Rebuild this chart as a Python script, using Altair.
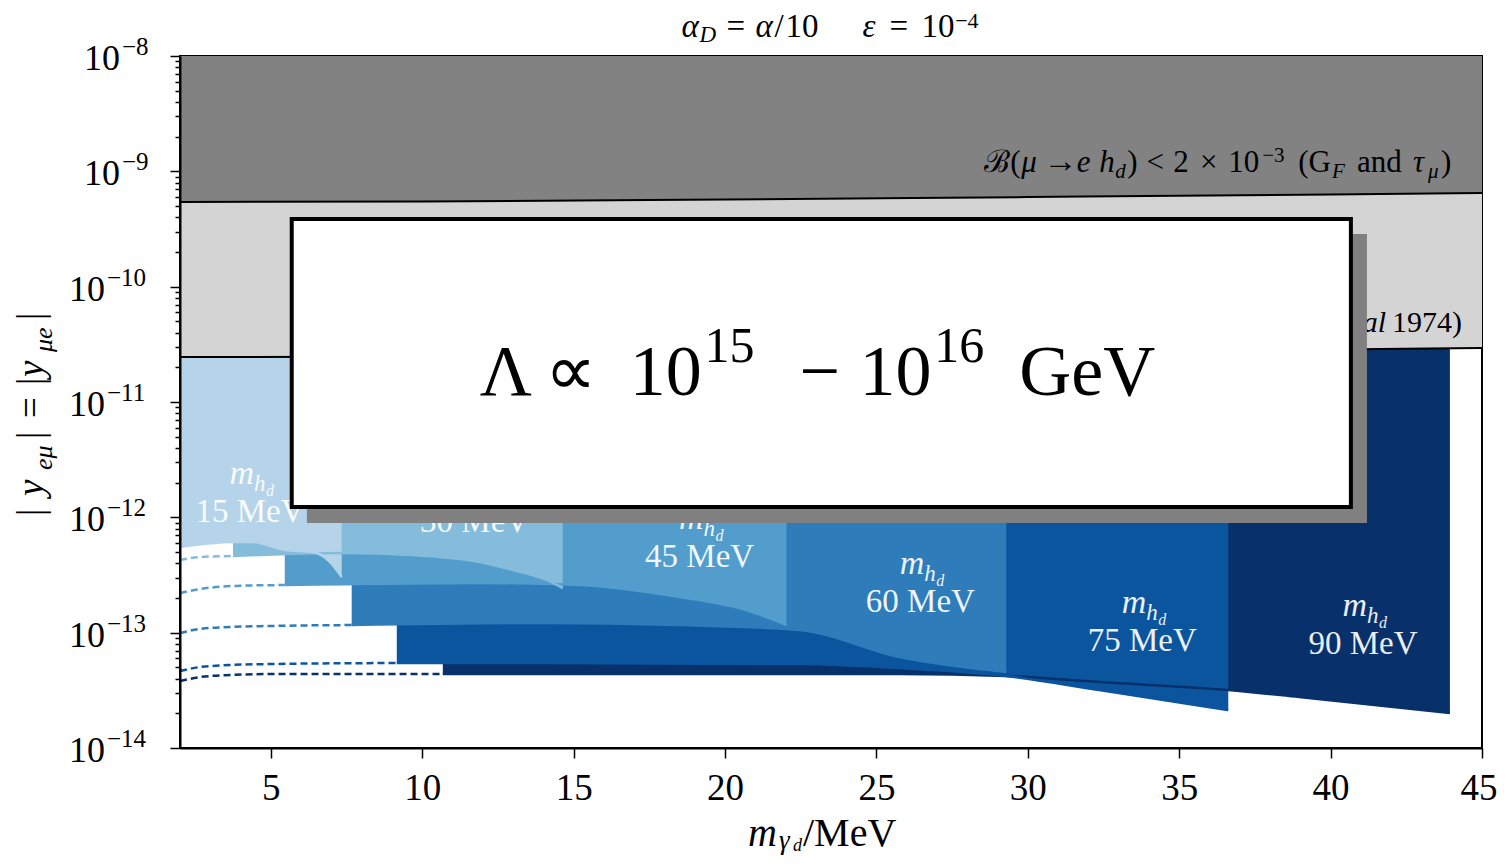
import altair as alt
import pandas as pd

FONT = "Liberation Serif"

# ---------------- data: x = m_gamma_d [MeV], values are log10 |y_emu| ----------------
bound_x = [2, 10, 20, 30, 40, 45]
gf_bound_log = [-9.266, -9.262, -9.244, -9.223, -9.201, -9.188]      # B(mu -> e h_d) < 2e-3 (G_F, tau_mu)
old_bound_log = [-10.610, -10.606, -10.588, -10.567, -10.545, -10.532]  # (... et al 1974)

masses = [15, 30, 45, 60, 75, 90]
mass_colors = ["#b6d4e9", "#85bcdc", "#539dcd", "#2e7cba", "#0b559f", "#08306b"]

reg_x = {
    15: [2.0, 3.75, 4.41, 5.46, 6.39, 6.95, 7.34],
    30: [3.75, 7.34, 9.69, 11.90, 12.99, 14.11, 14.64],
    45: [5.46, 11.90, 15.20, 18.50, 20.71, 22.03],
    60: [7.67, 14.11, 18.50, 22.46, 25.76, 29.29],
    75: [9.16, 14.11, 22.46, 25.76, 29.29, 32.36, 36.62],
    90: [10.68, 22.46, 25.76, 29.29, 32.36, 36.62, 38.96, 43.94],
}
reg_log = {
    15: [-12.257, -12.214, -12.214, -12.283, -12.301, -12.387, -12.517],
    30: [-12.335, -12.309, -12.327, -12.387, -12.457, -12.543, -12.613],
    45: [-12.587, -12.569, -12.587, -12.691, -12.804, -12.934],
    60: [-12.934, -12.916, -12.934, -12.977, -13.211, -13.341],
    75: [-13.263, -13.263, -13.272, -13.307, -13.376, -13.497, -13.671],
    90: [-13.359, -13.359, -13.359, -13.376, -13.428, -13.497, -13.558, -13.697],
}
dash_x = {
    30: [2.0, 2.66, 3.75],
    45: [2.0, 2.66, 3.65, 5.46],
    60: [2.0, 2.66, 3.65, 4.97, 7.67],
    75: [2.0, 2.66, 3.65, 4.97, 9.16],
    90: [2.0, 2.66, 3.65, 4.97, 10.68],
}
dash_log = {
    30: [-12.370, -12.344, -12.335],
    45: [-12.656, -12.622, -12.596, -12.587],
    60: [-13.003, -12.968, -12.951, -12.942, -12.934],
    75: [-13.333, -13.298, -13.281, -13.272, -13.263],
    90: [-13.419, -13.385, -13.367, -13.359, -13.359],
}
label_x = [4.31, 11.73, 19.16, 26.45, 33.78, 41.07]
label_log = [-12.041, -12.127, -12.431, -12.821, -13.159, -13.185]

x_ticks = [5, 10, 15, 20, 25, 30, 35, 40, 45]
decades = [-8, -9, -10, -11, -12, -13, -14]

# overlay box (data coords) and shadow
box_x = [5.69, 40.67]
box_log = [-9.413, -11.911]
shadow_x = [6.19, 41.20]
shadow_log = [-9.543, -12.049]

# ---------------- scales / axes ----------------
XS = alt.Scale(domain=[2, 45], nice=False, zero=False)
YS = alt.Scale(type="log", domain=[1e-14, 1e-8], nice=False)

y_tick_vals = [k * 10.0 ** e for e in range(-14, -8) for k in range(1, 10)] + [1e-8]

x_axis = alt.Axis(values=x_ticks, title=None, grid=False, labelFont=FONT, labelFontSize=37,
                  labelColor="black", tickColor="black", tickSize=10, tickWidth=1.5,
                  domainColor="black", domainWidth=2, labelPadding=12,
                  labelFlush=True, labelFlushOffset=15, zindex=1)
y_axis = alt.Axis(values=y_tick_vals, labels=False, title=None, grid=False,
                  tickColor="black", tickWidth=1.5, domainColor="black", domainWidth=2, zindex=1,
                  tickSize={"condition": {"test": "abs(log(datum.value)/LN10 - round(log(datum.value)/LN10)) < 0.001",
                                          "value": 10}, "value": 5})


def X(f="x"):
    return alt.X(f"{f}:Q", scale=XS, axis=x_axis)


def Y(f="y"):
    return alt.Y(f"{f}:Q", scale=YS, axis=y_axis)


layers = []

# blue excluded regions (largest mass first, smaller on top)
for m, c in reversed(list(zip(masses, mass_colors))):
    df = pd.DataFrame({"x": reg_x[m], "y": [10 ** v for v in reg_log[m]]})
    df["y2"] = 1e-10
    layers.append(alt.Chart(df).mark_area(color=c, opacity=1, interpolate="monotone")
                  .encode(x=X(), y=Y(), y2=alt.Y2("y2:Q")))

# region lower edges (solid) and dashed continuation
for m, c in reversed(list(zip(masses, mass_colors))):
    df = pd.DataFrame({"x": reg_x[m], "y": [10 ** v for v in reg_log[m]]})
    layers.append(alt.Chart(df).mark_line(color=c, strokeWidth=2.5, interpolate="monotone")
                  .encode(x=X(), y=Y()))
    if m in dash_x:
        dd = pd.DataFrame({"x": dash_x[m], "y": [10 ** v for v in dash_log[m]]})
        layers.append(alt.Chart(dd).mark_line(color=c, strokeWidth=2.5, strokeDash=[7, 4],
                                              interpolate="monotone").encode(x=X(), y=Y()))

# gray excluded regions
gdf = pd.DataFrame({"x": bound_x,
                    "gf": [10 ** v for v in gf_bound_log],
                    "old": [10 ** v for v in old_bound_log]})
gdf["top"] = 1e-8
layers.append(alt.Chart(gdf).mark_area(color="#828282", interpolate="monotone")
              .encode(x=X(), y=Y("gf"), y2=alt.Y2("top:Q")))
layers.append(alt.Chart(gdf).mark_area(color="#d4d4d4", interpolate="monotone")
              .encode(x=X(), y=Y("old"), y2=alt.Y2("gf:Q")))
layers.append(alt.Chart(gdf).mark_line(color="black", strokeWidth=2, interpolate="monotone")
              .encode(x=X(), y=Y("gf")))
layers.append(alt.Chart(gdf).mark_line(color="black", strokeWidth=2, interpolate="monotone")
              .encode(x=X(), y=Y("old")))

# region labels
ldf = pd.DataFrame({"x": label_x, "y": [10 ** v for v in label_log],
                    "t": [f"{m} MeV" for m in masses]})
ldf["m"] = "m"
ldf["h"] = "h"
ldf["d"] = "d"
lab_style = dict(font=FONT, color="white", opacity=0.92, baseline="alphabetic")
layers.append(alt.Chart(ldf).mark_text(fontSize=33, align="center", **lab_style)
              .encode(x=X(), y=Y(), text="t:N"))
layers.append(alt.Chart(ldf).mark_text(fontSize=34, fontStyle="italic", align="right", dx=4, dy=-38, **lab_style)
              .encode(x=X(), y=Y(), text="m:N"))
layers.append(alt.Chart(ldf).mark_text(fontSize=23, fontStyle="italic", align="left", dx=4, dy=-31, **lab_style)
              .encode(x=X(), y=Y(), text="h:N"))
layers.append(alt.Chart(ldf).mark_text(fontSize=16, fontStyle="italic", align="left", dx=16, dy=-26, **lab_style)
              .encode(x=X(), y=Y(), text="d:N"))


def pieces(items, color="black"):
    """items: (text, x, log10 y, fontSize, italic, align)"""
    out = []
    for t, x, ly, size, it, al in items:
        df = pd.DataFrame({"x": [x], "y": [10 ** ly], "t": [t]})
        out.append(alt.Chart(df).mark_text(font=FONT, fontSize=size, fontStyle="italic" if it else "normal",
                                           align=al, baseline="alphabetic", color=color)
                   .encode(x=X(), y=Y(), text="t:N"))
    return out


# text in the gray bands:  B(mu -> e h_d) < 2 x 10^-3 (G_F and tau_mu)
BL, SUB, SUP = -9.006, -9.058, -8.919
layers += pieces([
    ("ℬ(", 28.56, BL, 31, False, "left"),
    ("μ", 29.78, BL, 31, True, "left"),
    ("→", 30.52, BL, 34, False, "left"),
    ("e", 31.62, BL, 31, True, "left"),
    ("h", 32.36, BL, 31, True, "left"),
    ("d", 32.89, SUB, 21, True, "left"),
    (")", 33.28, BL, 31, False, "left"),
    ("<", 33.92, BL, 31, False, "left"),
    ("2", 34.80, BL, 31, False, "left"),
    ("×", 35.69, BL, 31, False, "left"),
    ("10", 36.62, BL, 31, False, "left"),
    ("−3", 37.74, SUP, 21, False, "left"),
    ("(G", 38.93, BL, 31, False, "left"),
    ("F", 40.05, SUB, 21, True, "left"),
    ("and", 40.87, BL, 31, False, "left"),
    ("τ", 42.72, BL, 31, True, "left"),
    ("μ", 43.22, SUB, 21, True, "left"),
    (")", 43.65, BL, 31, False, "left"),
    ("(Derenzo et al", 41.83, -10.393, 30, True, "right"),
    ("1974)", 42.03, -10.393, 30, False, "left"),
])

# overlay box with shadow
sdf = pd.DataFrame({"x": [shadow_x[0]], "x2": [shadow_x[1]],
                    "y": [10 ** shadow_log[0]], "y2": [10 ** shadow_log[1]]})
bdf = pd.DataFrame({"x": [box_x[0]], "x2": [box_x[1]],
                    "y": [10 ** box_log[0]], "y2": [10 ** box_log[1]]})
layers.append(alt.Chart(sdf).mark_rect(color="#808080")
              .encode(x=X(), x2="x2:Q", y=Y(), y2="y2:Q"))
layers.append(alt.Chart(bdf).mark_rect(fill="white", stroke="black", strokeWidth=4)
              .encode(x=X(), x2="x2:Q", y=Y(), y2="y2:Q"))
layers += pieces([
    ("Λ", 11.90, -10.939, 72, False, "left"),
    ("∝", 14.04, -10.939, 72, False, "left"),
    ("10", 16.85, -10.939, 72, False, "left"),
    ("15", 19.32, -10.653, 50, False, "left"),
    ("−", 22.46, -10.939, 72, False, "left"),
    ("10", 24.44, -10.939, 72, False, "left"),
    ("16", 26.91, -10.653, 50, False, "left"),
    ("GeV", 29.72, -10.939, 72, False, "left"),
])

# title  alpha_D = alpha/10   epsilon = 10^-4
TB, TSUB, TSUP = -7.835, -7.879, -7.757
layers += pieces([
    ("α", 18.56, TB, 33, True, "left"),
    ("D", 19.16, TSUB, 23, True, "left"),
    ("=", 20.05, TB, 33, False, "left"),
    ("α", 21.01, TB, 33, True, "left"),
    ("/", 21.63, TB, 33, False, "left"),
    ("10", 22.00, TB, 33, False, "left"),
    ("ε", 24.54, TB, 33, True, "left"),
    ("=", 25.43, TB, 33, False, "left"),
    ("10", 26.49, TB, 33, False, "left"),
    ("−4", 27.60, TSUP, 22, False, "left"),
])

# y tick labels 10^n
tdf = pd.DataFrame({"e": decades, "v": [10.0 ** e for e in decades],
                    "sup": ["−" + str(-e) for e in decades]})
tdf["ten"] = "10"
for flt, xt, xs in [("datum.e > -10", -60, -58), ("datum.e <= -10", -75, -73)]:
    layers.append(alt.Chart(tdf).transform_filter(flt)
                  .mark_text(font=FONT, fontSize=36, align="right", baseline="alphabetic", dy=14, color="black")
                  .encode(x=alt.value(xt), y=Y("v"), text="ten:N"))
    layers.append(alt.Chart(tdf).transform_filter(flt)
                  .mark_text(font=FONT, fontSize=25, align="left", baseline="alphabetic", dy=-1, color="black")
                  .encode(x=alt.value(xs), y=Y("v"), text="sup:N"))


def px_text(t, px, py, size, italic=False, angle=0):
    df = pd.DataFrame({"t": [t]})
    kw = dict(font=FONT, fontSize=size, fontStyle="italic" if italic else "normal",
              align="left", baseline="alphabetic", color="black")
    if angle:
        kw["angle"] = angle
    return alt.Chart(df).mark_text(**kw).encode(x=alt.value(px - 180), y=alt.value(py - 56), text="t:N")


# x axis title  m_{gamma_d}/MeV
layers += [
    px_text("m", 748, 846, 40, True),
    px_text("γ", 779, 849, 27, True),
    px_text("d", 793, 851, 18, True),
    px_text("/MeV", 803, 846, 40),
]
# y axis title |y_{e mu}| = |y_{mu e}|
layers += [
    px_text("|", 43, 516, 37, False, 270),
    px_text("y", 43, 496, 37, True, 270),
    px_text("eμ", 52, 470, 26, True, 270),
    px_text("|", 43, 439, 37, False, 270),
    px_text("=", 43, 418, 37, False, 270),
    px_text("|", 43, 385, 37, False, 270),
    px_text("y", 43, 377, 37, True, 270),
    px_text("μe", 52, 352, 26, True, 270),
    px_text("|", 43, 320, 37, False, 270),
]

chart = alt.layer(*layers).properties(
    width=1302, height=692,
    padding={"left": 172, "top": 48, "right": 16, "bottom": 108},
    autosize=alt.AutoSizeParams(type="none"),
).configure_view(stroke="black", strokeWidth=2)

chart.save("out.html", embed_options={"renderer": "svg", "actions": False})
